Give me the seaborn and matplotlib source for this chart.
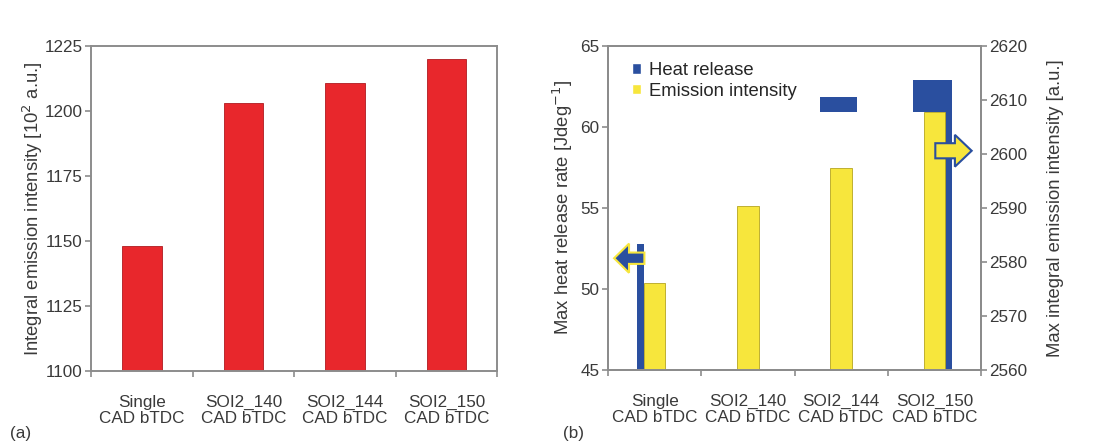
import matplotlib
matplotlib.use("Agg")
import matplotlib.pyplot as plt
import numpy as np
import pandas as pd
import seaborn as sns
from matplotlib.patches import FancyArrow, Patch

CATEGORIES = ["Single\nCAD bTDC", "SOI2_140\nCAD bTDC", "SOI2_144\nCAD bTDC", "SOI2_150\nCAD bTDC"]
INTEGRAL_EMISSION = [1148, 1203, 1211, 1220]          # panel (a), 10^2 a.u.
MAX_EMISSION = [2576.1, 2590.4, 2597.4, 2607.8]       # panel (b), right axis
# heat release pieces as they appear in panel (b): category, bottom, top
HR_CAT = [0, 2, 3, 3]
HR_BOTTOM = [45.0, 60.9, 60.9, 45.0]
HR_TOP = [52.8, 61.85, 62.9, 62.9]

RED = "#e8272c"
BLUE = "#2a4f9f"
YELLOW = "#f7e63c"
GREY = "#8c8c8c"
TXT = "#3a3a3a"
TICK_FS = 12.3
LAB_FS = 13.3

sns.set_style("white")
plt.rcParams["font.family"] = ["Liberation Sans", "DejaVu Sans"]


def style_axes(ax):
    for s in ax.spines.values():
        s.set_color(GREY)
        s.set_linewidth(1.4)
    ax.tick_params(axis="y", direction="out", length=4, width=1.2, color=GREY,
                   labelsize=TICK_FS, labelcolor=TXT, left=True, pad=2)
    ax.set_xticks(np.arange(-0.5, 4, 1), minor=True)
    ax.tick_params(axis="x", which="major", length=0, labelsize=TICK_FS,
                   labelcolor=TXT, pad=17)
    ax.tick_params(axis="x", which="minor", direction="out", length=4,
                   width=1.2, color=GREY, bottom=True)
    for lab in ax.get_xticklabels():
        lab.set_linespacing(1.1)
    ax.set_xlim(-0.5, 3.5)
    ax.set_xlabel("")


fig = plt.figure(figsize=(11.13, 4.42), dpi=100)

# (a)
ax_a = fig.add_axes([0.0818, 0.1606, 0.3648, 0.735])
df_a = pd.DataFrame({"case": CATEGORIES, "val": INTEGRAL_EMISSION})
sns.barplot(data=df_a, x="case", y="val", color=RED, saturation=1, width=0.39,
            edgecolor="#b01a1f", linewidth=0.6, ax=ax_a)
ax_a.set_ylim(1100, 1225)
ax_a.set_yticks(range(1100, 1226, 25))
ax_a.set_ylabel("Integral emission intensity [10$^2$ a.u.]", fontsize=LAB_FS,
                color=TXT, labelpad=0)
style_axes(ax_a)

# (b)
ax_b = fig.add_axes([0.5463, 0.1629, 0.3351, 0.733])
x_hr = np.array(HR_CAT, dtype=float)
offs = np.array([-0.155, -0.03, -0.02, 0.155])
wids = np.array([0.075, 0.40, 0.41, 0.075])
ax_b.bar(x_hr + offs, np.array(HR_TOP) - np.array(HR_BOTTOM), bottom=HR_BOTTOM,
         width=wids, color=BLUE, linewidth=0)
ax_b.set_ylim(45, 65)
ax_b.set_yticks(range(45, 66, 5))
ax_b.set_ylabel("Max heat release rate [Jdeg$^{-1}$]", fontsize=LAB_FS,
                color=TXT, labelpad=4)
ax_b.set_xticks(range(4))
ax_b.set_xticklabels(CATEGORIES)
style_axes(ax_b)

ax_c = ax_b.twinx()
df_b = pd.DataFrame({"case": CATEGORIES, "val": MAX_EMISSION})
sns.barplot(data=df_b, x="case", y="val", color=YELLOW, saturation=1, width=0.23,
            edgecolor="#b5a520", linewidth=0.6, ax=ax_c)
ax_c.set_ylim(2560, 2620)
ax_c.set_yticks(range(2560, 2621, 10))
ax_c.set_ylabel("Max integral emission intensity [a.u.]", fontsize=LAB_FS,
                color=TXT, labelpad=14)
ax_c.yaxis.set_label_position("right")
ax_c.yaxis.tick_right()
ax_c.set_xlim(-0.5, 3.5)
ax_c.set_xlabel("")
for s in ax_c.spines.values():
    s.set_color(GREY)
    s.set_linewidth(1.4)
ax_c.tick_params(axis="y", direction="out", length=4, width=1.2, color=GREY,
                 labelsize=TICK_FS, labelcolor=TXT, right=True, pad=2)
ax_c.tick_params(axis="x", length=0)

# arrows pointing to the axes
ax_c.add_patch(FancyArrow(-0.11, 51.9, -0.325, 0, width=0.7, head_width=1.8,
                          head_length=0.16, length_includes_head=True,
                          facecolor=BLUE, edgecolor=YELLOW, linewidth=1.5,
                          transform=ax_b.transData, zorder=5, clip_on=False))
ax_c.add_patch(FancyArrow(3.01, 2600.6, 0.39, 0, width=2.8, head_width=5.9,
                          head_length=0.18, length_includes_head=True,
                          facecolor=YELLOW, edgecolor=BLUE, linewidth=1.5,
                          zorder=5, clip_on=False))

handles = [Patch(facecolor=BLUE, label="Heat release"),
           Patch(facecolor=YELLOW, label="Emission intensity")]
ax_c.legend(handles=handles, loc="upper left", bbox_to_anchor=(0.035, 0.985),
            frameon=False, fontsize=LAB_FS, handlelength=0.5, handleheight=0.5,
            handletextpad=0.4, labelspacing=0.2, borderaxespad=0.2)

fig.text(0.009, 0.008, "(a)", fontsize=TICK_FS, color=TXT)
fig.text(0.506, 0.008, "(b)", fontsize=TICK_FS, color=TXT)

fig.savefig("out.png", dpi=100)
